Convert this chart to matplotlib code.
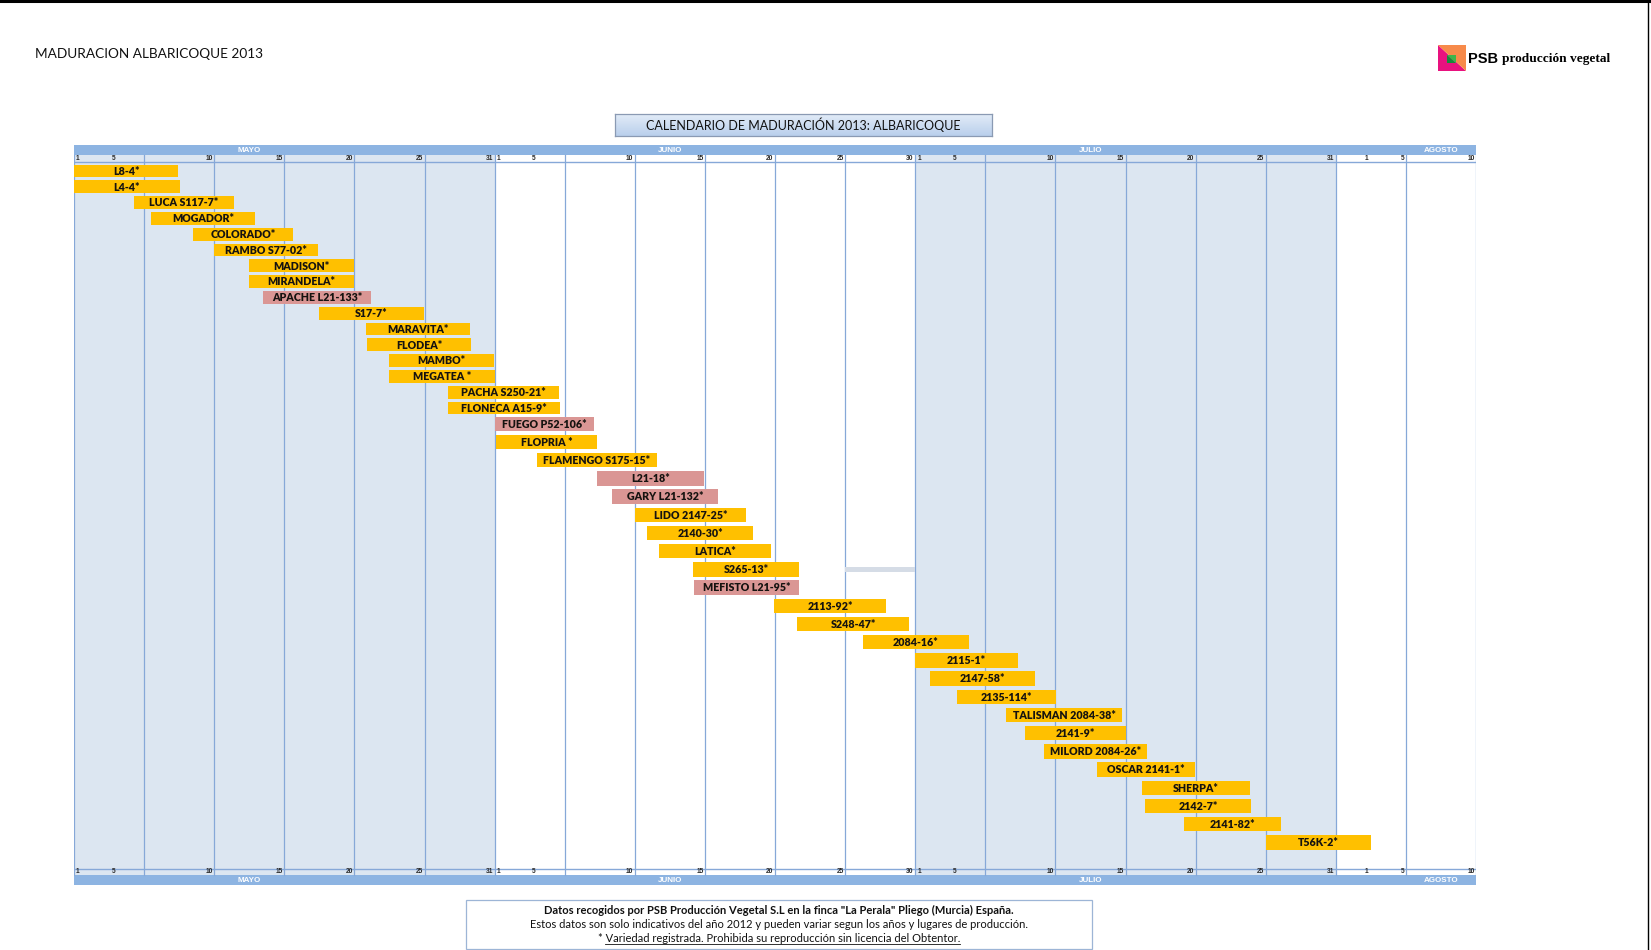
import numpy as np
import matplotlib
matplotlib.use("Agg")
import matplotlib.pyplot as plt
from matplotlib.patches import Rectangle, Polygon
from matplotlib.lines import Line2D

W, H, DPI = 1651, 950, 100

# ── data ─────────────────────────────────────────────────────────────────────
# x unit = one calendar column (~5 days, "pentada"), counted from 1 May
VARIETIES = [
    "L8-4*", "L4-4*", "LUCA S117-7*", "MOGADOR*", "COLORADO*", "RAMBO S77-02*",
    "MADISON*", "MIRANDELA*", "APACHE L21-133*", "S17-7*", "MARAVITA*", "FLODEA*",
    "MAMBO*", "MEGATEA *", "PACHA S250-21*", "FLONECA A15-9*", "FUEGO P52-106*",
    "FLOPRIA *", "FLAMENGO S175-15*", "L21-18*", "GARY L21-132*", "LIDO 2147-25*",
    "2140-30*", "LATICA*", "S265-13*", "MEFISTO L21-95*", "2113-92*", "S248-47*",
    "2084-16*", "2115-1*", "2147-58*", "2135-114*", "TALISMAN 2084-38*", "2141-9*",
    "MILORD 2084-26*", "OSCAR 2141-1*", "SHERPA*", "2142-7*", "2141-82*", "T56K-2*",
]
START = [
    0.00, 0.00, 0.85, 1.10, 1.70, 2.00, 2.49, 2.49, 2.69, 3.50, 4.17, 4.18,
    4.50, 4.50, 5.33, 5.34, 6.01, 6.02, 6.60, 7.46, 7.68, 8.00, 8.17, 8.35,
    8.83, 8.84, 9.99, 10.32, 11.25, 12.00, 12.21, 12.59, 13.30, 13.56, 13.84,
    14.59, 15.24, 15.28, 15.83, 17.00,
]
END = [
    1.49, 1.51, 2.28, 2.58, 3.13, 3.48, 3.99, 3.99, 4.24, 4.99, 5.65, 5.66,
    5.99, 6.00, 6.92, 6.93, 7.42, 7.46, 8.31, 8.99, 9.18, 9.59, 9.69, 9.95,
    10.34, 10.34, 11.58, 11.91, 12.77, 13.46, 13.71, 14.01, 14.95, 15.01, 15.31,
    15.99, 16.77, 16.79, 17.22, 18.50,
]
# 1 = pink bar (L21 / P52 selections), 0 = standard orange
GROUP = [
    0, 0, 0, 0, 0, 0, 0, 0, 1, 0, 0, 0, 0, 0, 0, 0, 1, 0, 0, 1,
    1, 0, 0, 0, 0, 1, 0, 0, 0, 0, 0, 0, 0, 0, 0, 0, 0, 0, 0, 0,
]
GAP_ROW = 24             # thin grey cell next to S265-13*
GAP_SPAN = (11.0, 12.0)

MONTHS = ["MAYO", "JUNIO", "JULIO", "AGOSTO"]
MONTH_COLS = [6, 6, 6, 2]
DAY_LABELS = [
    ["1", "5", "10", "15", "20", "25", "31"],
    ["1", "5", "10", "15", "20", "25", "30"],
    ["1", "5", "10", "15", "20", "25", "31"],
    ["1", "5", "10"],
]

TITLE = "MADURACION ALBARICOQUE 2013"
BOX_TITLE = "CALENDARIO DE MADURACIÓN 2013: ALBARICOQUE"
NOTE_1 = 'Datos recogidos por PSB Producción Vegetal S.L en la finca "La Perala" Pliego (Murcia) España.'
NOTE_2 = "Estos datos son solo indicativos del año 2012 y pueden variar segun los años y lugares de producción."
NOTE_3_PREFIX = "* "
NOTE_3 = "Variedad registrada. Prohibida su reproducción sin licencia del Obtentor."

# ── style ────────────────────────────────────────────────────────────────────
ORANGE, PINK = "#FFC000", "#DA9694"
SHADE = "#DCE6F1"
BAND = "#8DB4E2"
GRID = "#86A8D8"
FONT = "Lato"


def fx(px):
    return px / W


def fy(py):
    return 1 - py / H


fig = plt.figure(figsize=(W / DPI, H / DPI), dpi=DPI)
fig.patch.set_facecolor("white")

# page borders
fig.add_artist(Line2D([0, 1], [fy(1), fy(1)], color="black", lw=2.2))
fig.add_artist(Line2D([fx(1648), fx(1648)], [0, 1], color="black", lw=1.0))

fig.text(fx(35), fy(54), TITLE, family=FONT, fontsize=9.8, va="center", ha="left",
         color="#111111")

# ── calendar axes (y in px-like units from top of month band) ───────────────
x0, x1, y0, y1 = 74, 1476, 145, 885
ax = fig.add_axes([fx(x0), fy(y1), fx(x1 - x0), (y1 - y0) / H])
ax.set_xlim(0, sum(MONTH_COLS))
ax.set_ylim(y1 - y0, 0)
ax.axis("off")
total = sum(MONTH_COLS)
ybot = y1 - y0
band_h, day_h = 10, 6.5

# month shading
col = 0
for i, n in enumerate(MONTH_COLS):
    if i % 2 == 0:
        ax.add_patch(Rectangle((col, band_h), n, ybot - 2 * band_h,
                               facecolor=SHADE, edgecolor="none", zorder=0))
    col += n

# month bands top and bottom
for yb in (0, ybot - band_h):
    ax.add_patch(Rectangle((0, yb), total, band_h, facecolor=BAND,
                           edgecolor="none", zorder=1))

# vertical grid lines
for c in range(total + 1):
    ax.plot([c, c], [band_h, ybot - band_h], color=GRID, lw=0.9, zorder=1)
for yl in (band_h + day_h, ybot - band_h - day_h):
    ax.plot([0, total], [yl, yl], color=GRID, lw=1.0, zorder=1)

# day labels and month names
col = 0
for m, (name, n, labels) in enumerate(zip(MONTHS, MONTH_COLS, DAY_LABELS)):
    for yd, ym in ((band_h + day_h / 2, band_h / 2),
                   (ybot - band_h - day_h / 2, ybot - band_h / 2)):
        for k, lab in enumerate(labels):
            if k == 0:
                if n == 2:
                    x, ha = col + 0.44, "center"
                else:
                    x, ha = col + 0.03, "left"
            elif k == 1 and n != 2:
                x, ha = col + 0.56, "center"
            else:
                x, ha = col + k - 0.02, "right"
            ax.text(x, yd, lab, fontsize=4.8, family="Liberation Sans",
                    weight="bold", ha=ha, va="center", color="#2A2A2A", zorder=3)
        ax.text(col + (2.5 if n > 2 else 1.5), ym, name, fontsize=5.8,
                family="Liberation Sans", weight="bold", color="white",
                ha="center", va="center", zorder=3)
    col += n

# rows
row_h = [15.8 if i < 16 else 18.2 for i in range(len(VARIETIES))]
centers = 26 + np.concatenate([[0], np.cumsum(row_h[:-1])])

gx0, gx1 = GAP_SPAN
ax.add_patch(Rectangle((gx0, centers[GAP_ROW] - 2.3), gx1 - gx0, 4.6,
                       facecolor="#D5DCE6", edgecolor="none", zorder=2))

for name, s, e, g, yc, rh in zip(VARIETIES, START, END, GROUP, centers, row_h):
    bh = 0.8 * rh
    ax.add_patch(Rectangle((s, yc - bh / 2), e - s, bh,
                           facecolor=PINK if g else ORANGE, edgecolor="none",
                           zorder=3))
    ax.text((s + e) / 2, yc + 0.3, name, family=FONT, weight="heavy",
            fontsize=7.7, ha="center", va="center", color="#161310", zorder=4)

# ── title box with gradient ─────────────────────────────────────────────────
tb = fig.add_axes([fx(615), fy(136), fx(992 - 615), (136 - 113.5) / H])
grad = np.linspace(0, 1, 64)[:, None]
tb.imshow(grad, cmap=matplotlib.colors.LinearSegmentedColormap.from_list(
    "g", ["#E4EDF8", "#B9CFEC"]), aspect="auto", extent=(0, 1, 0, 1),
    origin="upper")
tb.set_xlim(0, 1)
tb.set_ylim(0, 1)
tb.set_xticks([])
tb.set_yticks([])
for sp in tb.spines.values():
    sp.set_color("#8A9AB3")
    sp.set_linewidth(0.9)
tb.text(0.5, 0.48, BOX_TITLE, family=FONT, fontsize=9.0, ha="center",
        va="center", color="#111111")

# ── logo ─────────────────────────────────────────────────────────────────────
lg = fig.add_axes([fx(1438), fy(71), fx(28), 26 / H])
lg.set_xlim(0, 1)
lg.set_ylim(0, 1)
lg.axis("off")
lg.add_patch(Polygon([(0, 1), (0, 0), (1, 0)], facecolor="#E8127F", edgecolor="none"))
lg.add_patch(Polygon([(0, 1), (1, 1), (1, 0)], facecolor="#F78A4A", edgecolor="none"))
lg.add_patch(Polygon([(0.33, 0.62), (0.33, 0.32), (0.63, 0.32)], facecolor="#148C3A",
                     edgecolor="none"))
lg.add_patch(Polygon([(0.33, 0.62), (0.63, 0.62), (0.63, 0.32)], facecolor="#3DB54A",
                     edgecolor="none"))
fig.text(fx(1468), fy(59), "PSB", family="Liberation Sans", weight="bold",
         fontsize=10.5, va="center", ha="left", color="black")
fig.text(fx(1502), fy(59), "producción vegetal", family="Liberation Serif",
         weight="bold", fontsize=9.6, va="center", ha="left", color="black")

# ── footer note ──────────────────────────────────────────────────────────────
fig.add_artist(Rectangle((fx(466), fy(949)), fx(1092 - 466), 49 / H,
                         transform=fig.transFigure, facecolor="white",
                         edgecolor="#9DB5D6", lw=0.9))
xc = fx(779)
FS_NOTE = 8.0
fig.text(xc, fy(910), NOTE_1, family=FONT, weight="bold", fontsize=FS_NOTE,
         ha="center", va="center", color="#111111")
fig.text(xc, fy(924.5), NOTE_2, family=FONT, fontsize=FS_NOTE, ha="center",
         va="center", color="#111111")
t3 = fig.text(xc, fy(939), NOTE_3_PREFIX + NOTE_3, family=FONT, fontsize=FS_NOTE,
              ha="center", va="center", color="#111111")

# underline the registered-variety sentence
rend = fig.canvas.get_renderer()
full = t3.get_window_extent(rend)
tmp = fig.text(0, 0, NOTE_3_PREFIX.strip() + "\u00a0", family=FONT, fontsize=FS_NOTE)
pre_w = tmp.get_window_extent(rend).width
tmp.remove()
ul_y = full.y0 + 0.5
fig.add_artist(Line2D([(full.x0 + pre_w) / W, full.x1 / W], [ul_y / H, ul_y / H],
                      color="#111111", lw=0.6))

fig.savefig("out.png", dpi=DPI)
